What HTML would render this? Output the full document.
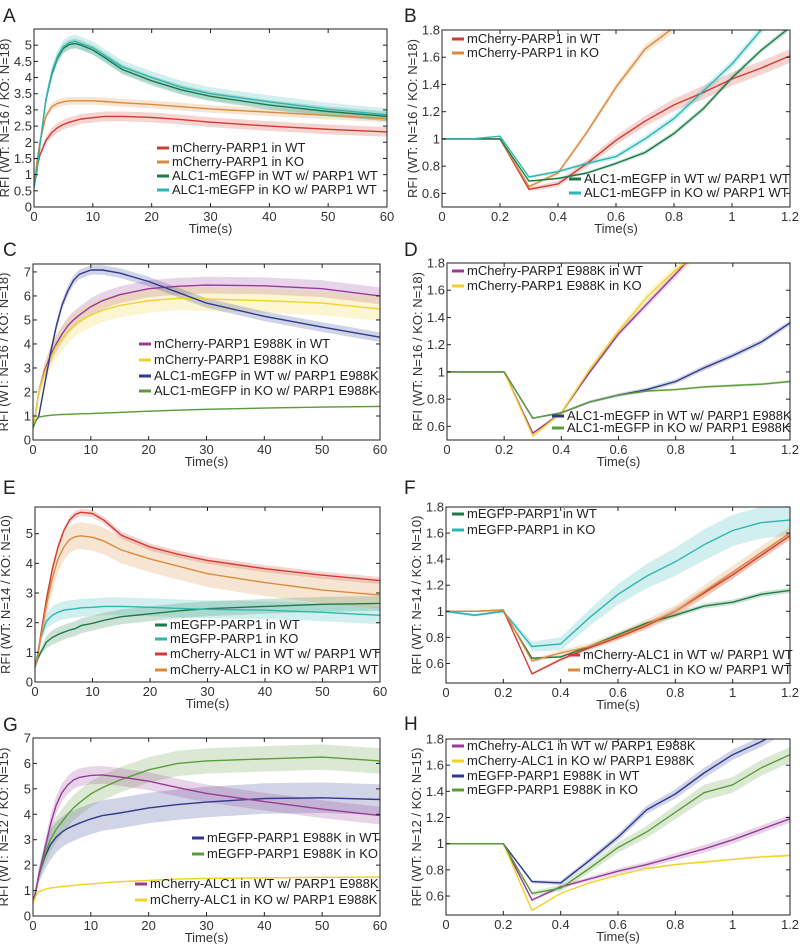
<!DOCTYPE html>
<html><head><meta charset="utf-8">
<style>
html,body{margin:0;padding:0;background:#fff;}
svg{display:block;font-family:"Liberation Sans",Arial,sans-serif;}
</style></head>
<body>
<svg id="fig" width="800" height="944" viewBox="0 0 800 944"></svg>
<script>
// ---- shared x categories ----
const T_LONG = [0,0.5,1,2,3,4,5,6,7,8,10,12,15,20,25,30,40,50,60];
const T_SHORT = [0,0.1,0.2,0.3,0.4,0.5,0.6,0.7,0.8,0.9,1.0,1.1,1.2];
const TICKS_LONG = [0,10,20,30,40,50,60];
const TICKS_SHORT = [0,0.2,0.4,0.6,0.8,1,1.2];
const YTICKS_A = [0,0.5,1,1.5,2,2.5,3,3.5,4,4.5,5];
const YTICKS_C = [0,1,2,3,4,5,6,7];
const YTICKS_E = [0,1,2,3,4,5];
const YTICKS_G = [0,1,2,3,4,5,6,7];
const YTICKS_R = [0.6,0.8,1,1.2,1.4,1.6,1.8];

// ---- panel A ----
const A_red = [0.6,1.2,1.6,2.05,2.3,2.45,2.55,2.62,2.67,2.72,2.76,2.8,2.8,2.77,2.7,2.62,2.5,2.4,2.32];
const A_orange = [0.6,1.4,2.0,2.8,3.1,3.2,3.25,3.28,3.28,3.28,3.28,3.26,3.22,3.17,3.1,3.03,2.93,2.83,2.73];
const A_green = [0.6,1.1,1.9,3.3,4.1,4.6,4.9,5.02,5.05,5.0,4.85,4.62,4.25,3.9,3.62,3.42,3.15,2.95,2.8];
const A_cyan = [0.6,1.1,1.9,3.3,4.15,4.65,4.95,5.08,5.12,5.05,4.92,4.68,4.33,4.0,3.7,3.5,3.25,3.02,2.85];
// ---- panel B ----
const B_red = [1,1,1,0.63,0.67,0.82,0.99,1.13,1.25,1.34,1.44,1.52,1.61];
const B_orange = [1,1,1,0.65,0.75,1.05,1.38,1.66,1.82,2.0,2.2,2.4,2.6];
const B_green = [1,1,1,0.69,0.71,0.75,0.82,0.9,1.04,1.22,1.45,1.65,1.82];
const B_cyan = [1,1,1.02,0.72,0.76,0.82,0.87,1.0,1.15,1.35,1.55,1.8,2.0];
// ---- panel C ----
const C_purple = [0.5,1.2,2.0,2.9,3.5,4.0,4.4,4.75,5.0,5.2,5.55,5.8,6.05,6.3,6.4,6.45,6.42,6.3,6.0];
const C_yellow = [0.5,1.2,2.0,2.8,3.4,3.9,4.2,4.5,4.75,4.95,5.2,5.4,5.6,5.8,5.9,5.87,5.8,5.7,5.45];
const C_navy = [0.5,0.8,1.0,2.3,3.6,4.7,5.6,6.2,6.65,6.9,7.08,7.08,6.95,6.6,6.15,5.7,5.15,4.7,4.28];
const C_green = [0.5,0.8,0.95,1.0,1.03,1.05,1.06,1.07,1.08,1.09,1.1,1.12,1.15,1.2,1.24,1.28,1.33,1.37,1.4];
// ---- panel D ----
const D_purple = [1,1,1,0.55,0.7,1.0,1.28,1.5,1.72,1.95,2.2,2.4,2.6];
const D_yellow = [1,1,1,0.53,0.7,1.02,1.3,1.55,1.75,1.9,2.1,2.3,2.5];
const D_navy = [1,1,1,0.66,0.7,0.78,0.83,0.87,0.93,1.03,1.12,1.22,1.36];
const D_green = [1,1,1,0.66,0.7,0.78,0.83,0.86,0.87,0.89,0.9,0.91,0.93];
// ---- panel E ----
const E_dkgreen = [0.5,0.8,1.0,1.35,1.5,1.6,1.68,1.75,1.8,1.9,1.98,2.08,2.2,2.3,2.4,2.47,2.55,2.62,2.65];
const E_cyan = [0.5,1.0,1.5,2.05,2.25,2.35,2.42,2.45,2.47,2.5,2.52,2.55,2.55,2.52,2.48,2.45,2.42,2.35,2.25];
const E_red = [0.5,0.9,1.6,2.8,3.8,4.55,5.1,5.45,5.65,5.72,5.68,5.45,4.95,4.55,4.3,4.1,3.82,3.6,3.42];
const E_orange = [0.5,0.9,1.5,2.6,3.5,4.15,4.55,4.8,4.9,4.93,4.88,4.75,4.45,4.15,3.9,3.65,3.35,3.1,2.93];
// ---- panel F ----
const F_dkgreen = [1,0.97,1,0.64,0.65,0.73,0.82,0.91,0.97,1.04,1.07,1.13,1.16];
const F_cyan = [1,0.97,1,0.73,0.75,0.95,1.13,1.27,1.38,1.51,1.62,1.68,1.7];
const F_red = [1,1,1.01,0.52,0.63,0.72,0.8,0.89,1.0,1.14,1.28,1.43,1.58];
const F_orange = [1,1,1.01,0.62,0.68,0.73,0.81,0.9,1.0,1.15,1.3,1.45,1.6];
// ---- panel G ----
const G_navy = [0.5,1.0,1.6,2.3,2.8,3.1,3.3,3.45,3.55,3.65,3.82,3.95,4.05,4.25,4.38,4.48,4.62,4.65,4.58];
const G_green = [0.5,1.0,1.6,2.4,3.0,3.4,3.7,4.0,4.25,4.45,4.8,5.05,5.35,5.75,6.0,6.1,6.18,6.25,6.1];
const G_purple = [0.5,1.0,1.6,2.6,3.6,4.35,4.85,5.15,5.35,5.45,5.53,5.55,5.47,5.3,5.05,4.82,4.5,4.2,3.95];
const G_yellow = [0.5,0.8,0.95,1.05,1.1,1.13,1.16,1.18,1.2,1.23,1.26,1.3,1.35,1.4,1.45,1.48,1.5,1.52,1.53];
// ---- panel H ----
const H_purple = [1,1,1,0.57,0.67,0.73,0.79,0.84,0.9,0.96,1.03,1.11,1.19];
const H_yellow = [1,1,1,0.49,0.62,0.7,0.76,0.81,0.84,0.86,0.88,0.9,0.91];
const H_navy = [1,1,1,0.71,0.7,0.87,1.05,1.26,1.38,1.54,1.68,1.78,1.9];
const H_green = [1,1,1,0.62,0.66,0.81,0.97,1.09,1.24,1.39,1.45,1.58,1.68];

const COL = {red:'#d23b32',orange:'#db8a3c',dkgreen:'#1d7a48',cyan:'#2db6b2',purple:'#983a98',yellow:'#f0d22c',navy:'#2d3a8e',green:'#5b9d3a'};
const NS = 'http://www.w3.org/2000/svg';
const svg = document.getElementById('fig');
function mk(tag, attrs, parent){
  const e = document.createElementNS(NS, tag);
  for (const k in attrs) e.setAttribute(k, attrs[k]);
  (parent||svg).appendChild(e);
  return e;
}

const panels = [
 {id:'a',letter:'A',lx:3,ly:22,x0:34,x1:387,yTop:29,yBot:207,ymin:0,ymax:5.5,t:T_LONG,xt:TICKS_LONG,xmax:60,yt:YTICKS_A,ylab:'RFI (WT: N=16 / KO: N=18)',
  series:[[A_red,'red',0.15],[A_orange,'orange',0.12],[A_green,'dkgreen',0.15],[A_cyan,'cyan',0.2]],
  legend:[[172,152,'mCherry-PARP1 in WT','red'],[172,166,'mCherry-PARP1 in KO','orange'],[172,180,'ALC1-mEGFP in WT w/ PARP1 WT','dkgreen'],[172,194,'ALC1-mEGFP in KO w/ PARP1 WT','cyan']]},
 {id:'b',letter:'B',lx:404,ly:22,x0:442,x1:790,yTop:30,yBot:207,ymin:0.5,ymax:1.8,t:T_SHORT,xt:TICKS_SHORT,xmax:1.2,yt:YTICKS_R,ylab:'RFI (WT: N=16 / KO: N=18)',
  series:[[B_red,'red',0.05],[B_orange,'orange',0.04],[B_green,'dkgreen',0.02],[B_cyan,'cyan',0.03]],
  legend:[[467,43,'mCherry-PARP1 in WT','red'],[467,57,'mCherry-PARP1 in KO','orange'],[584,183,'ALC1-mEGFP in WT w/ PARP1 WT','dkgreen'],[584,197,'ALC1-mEGFP in KO w/ PARP1 WT','cyan']]},
 {id:'c',letter:'C',lx:3,ly:256,x0:33,x1:380,yTop:264,yBot:440,ymin:0,ymax:7.33,t:T_LONG,xt:TICKS_LONG,xmax:60,yt:YTICKS_C,ylab:'RFI (WT: N=16 / KO: N=18)',
  series:[[C_purple,'purple',0.35],[C_yellow,'yellow',0.5],[C_navy,'navy',0.2],[C_green,'green',0.03]],
  legend:[[154,348,'mCherry-PARP1 E988K in WT','purple'],[154,364,'mCherry-PARP1 E988K in KO','yellow'],[154,380,'ALC1-mEGFP in WT w/ PARP1 E988K','navy'],[154,395,'ALC1-mEGFP in KO w/ PARP1 E988K','green']]},
 {id:'d',letter:'D',lx:404,ly:256,x0:447,x1:790,yTop:263,yBot:440,ymin:0.5,ymax:1.8,t:T_SHORT,xt:TICKS_SHORT,xmax:1.2,yt:YTICKS_R,ylab:'RFI (WT: N=16 / KO: N=18)',
  series:[[D_purple,'purple',0.03],[D_yellow,'yellow',0.04],[D_navy,'navy',0.02],[D_green,'green',0.01]],
  legend:[[467,275,'mCherry-PARP1 E988K in WT','purple'],[467,290,'mCherry-PARP1 E988K in KO','yellow'],[567,420,'ALC1-mEGFP in WT w/ PARP1 E988K','navy'],[567,432,'ALC1-mEGFP in KO w/ PARP1 E988K','green']]},
 {id:'e',letter:'E',lx:3,ly:494,x0:35,x1:380,yTop:507,yBot:682,ymin:0,ymax:5.9,t:T_LONG,xt:TICKS_LONG,xmax:60,yt:YTICKS_E,ylab:'RFI (WT: N=14 / KO: N=10)',
  series:[[E_dkgreen,'dkgreen',0.25],[E_cyan,'cyan',0.3],[E_red,'red',0.12],[E_orange,'orange',0.45]],
  legend:[[170,629,'mEGFP-PARP1 in WT','dkgreen'],[170,643,'mEGFP-PARP1 in KO','cyan'],[170,658,'mCherry-ALC1 in WT w/ PARP1 WT','red'],[170,674,'mCherry-ALC1 in KO w/ PARP1 WT','orange']]},
 {id:'f',letter:'F',lx:404,ly:494,x0:446,x1:790,yTop:507,yBot:683,ymin:0.45,ymax:1.8,t:T_SHORT,xt:TICKS_SHORT,xmax:1.2,yt:YTICKS_R,ylab:'RFI (WT: N=14 / KO: N=10)',
  series:[[F_dkgreen,'dkgreen',0.02],[F_cyan,'cyan',0.12],[F_red,'red',0.03],[F_orange,'orange',0.05]],
  legend:[[467,518,'mEGFP-PARP1 in WT','dkgreen'],[467,534,'mEGFP-PARP1 in KO','cyan'],[583,659,'mCherry-ALC1 in WT w/ PARP1 WT','red'],[583,674,'mCherry-ALC1 in KO w/ PARP1 WT','orange']]},
 {id:'g',letter:'G',lx:3,ly:731,x0:33,x1:380,yTop:738,yBot:916,ymin:0,ymax:7,t:T_LONG,xt:TICKS_LONG,xmax:60,yt:YTICKS_G,ylab:'RFI (WT: N=12 / KO: N=15)',
  series:[[G_navy,'navy',0.6],[G_green,'green',0.5],[G_purple,'purple',0.35],[G_yellow,'yellow',0.03]],
  legend:[[207,842,'mEGFP-PARP1 E988K in WT','navy'],[207,858,'mEGFP-PARP1 E988K in KO','green'],[150,888,'mCherry-ALC1 in WT w/ PARP1 E988K','purple'],[150,904,'mCherry-ALC1 in KO w/ PARP1 E988K','yellow']]},
 {id:'h',letter:'H',lx:404,ly:730,x0:446,x1:790,yTop:739,yBot:915,ymin:0.455,ymax:1.8,t:T_SHORT,xt:TICKS_SHORT,xmax:1.2,yt:YTICKS_R,ylab:'RFI (WT: N=12 / KO: N=15)',
  series:[[H_purple,'purple',0.03],[H_yellow,'yellow',0.01],[H_navy,'navy',0.04],[H_green,'green',0.06]],
  legend:[[467,750,'mCherry-ALC1 in WT w/ PARP1 E988K','purple'],[467,765,'mCherry-ALC1 in KO w/ PARP1 E988K','yellow'],[467,780,'mEGFP-PARP1 E988K in WT','navy'],[467,794,'mEGFP-PARP1 E988K in KO','green']]}
];

const defs = mk('defs',{});
panels.forEach(p=>{
  const g = mk('g',{});
  
  
  const X = v => p.x0 + (v/p.xmax)*(p.x1-p.x0);
  const Y = v => p.yBot - (v-p.ymin)/(p.ymax-p.ymin)*(p.yBot-p.yTop);
  // error band scale: small before bleaching / at start
  const escale = t => p.xmax > 5 ? Math.min(1, 0.15 + t/3) : (t < 0.25 ? 0.1 : Math.min(1, 0.3 + (t-0.3)*1.2));
  const cp = mk('clipPath',{id:'clip-'+p.id},defs);
  mk('rect',{x:p.x0,y:p.yTop,width:p.x1-p.x0,height:p.yBot-p.yTop},cp);

  const letter = mk('text',{x:p.lx,y:p.ly,'font-size':19,fill:'#222'},g);
  letter.textContent = p.letter;
  
  

  const plot = mk('g',{'clip-path':'url(#clip-'+p.id+')'},g);
  
  
  p.series.forEach((s,si)=>{
    const vals=s[0], c=COL[s[1]], err=s[2];
    let up=[], dn=[];
    vals.forEach((v,i)=>{ const e=err*escale(p.t[i]); up.push(X(p.t[i]).toFixed(1)+','+Y(v+e).toFixed(1)); dn.unshift(X(p.t[i]).toFixed(1)+','+Y(v-e).toFixed(1)); });
    const band = mk('polygon',{points:up.concat(dn).join(' '),fill:c,'fill-opacity':0.22,stroke:'none'},plot);
    
    
  });
  p.series.forEach((s,si)=>{
    const vals=s[0], c=COL[s[1]];
    const pts = vals.map((v,i)=>X(p.t[i]).toFixed(1)+','+Y(v).toFixed(1)).join(' ');
    const ln = mk('polyline',{points:pts,fill:'none',stroke:c,'stroke-width':1.4,'stroke-linejoin':'round'},plot);
    
    
  });

  const box = mk('rect',{x:p.x0,y:p.yTop,width:p.x1-p.x0,height:p.yBot-p.yTop,fill:'none',stroke:'#222','stroke-width':1},g);
  
  

  p.xt.forEach(v=>{
    const x=X(v);
    mk('line',{x1:x,x2:x,y1:p.yBot,y2:p.yBot-4,stroke:'#222'},g);
    mk('line',{x1:x,x2:x,y1:p.yTop,y2:p.yTop+4,stroke:'#222'},g);
    const t = mk('text',{x:x,y:p.yBot+14,'font-size':13,'text-anchor':'middle',fill:'#333'},g);
    t.textContent = String(v);
    
    
  });
  p.yt.forEach(v=>{
    const y=Y(v);
    mk('line',{x1:p.x0,x2:p.x0+4,y1:y,y2:y,stroke:'#222'},g);
    mk('line',{x1:p.x1,x2:p.x1-4,y1:y,y2:y,stroke:'#222'},g);
    const t = mk('text',{x:p.x0-2,y:y+4.5,'font-size':13,'text-anchor':'end',fill:'#333'},g);
    t.textContent = String(v);
    
    
  });
  const xl = mk('text',{x:(p.x0+p.x1)/2,y:p.yBot+26,'font-size':13,'text-anchor':'middle',fill:'#333'},g);
  xl.textContent='Time(s)';
  
  
  const cy=(p.yTop+p.yBot)/2, cx=p.x0-25;
  const yl = mk('text',{x:cx,y:cy,'font-size':13,'text-anchor':'middle',fill:'#333',transform:'rotate(-90 '+cx+' '+cy+')'},g);
  yl.textContent=p.ylab;
  
  

  p.legend.forEach(L=>{
    const lg = mk('g',{},g);
    
    
    mk('line',{x1:L[0]-15,x2:L[0]-3,y1:L[1]-4,y2:L[1]-4,stroke:COL[L[3]],'stroke-width':3},lg);
    const t = mk('text',{x:L[0],y:L[1],'font-size':13,fill:'#222'},lg);
    t.textContent=L[2];
  });
});
</script>
</body></html>
